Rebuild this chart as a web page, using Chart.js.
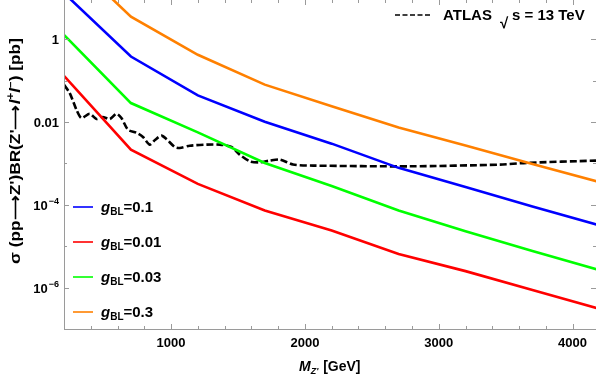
<!DOCTYPE html>
<html>
<head>
<meta charset="utf-8">
<script src="https://cdn.jsdelivr.net/npm/chart.js@4.4.0/dist/chart.umd.min.js"></script>
<style>
  html, body { margin: 0; padding: 0; background: #fff; }
  canvas { display: block; }
</style>
</head>
<body>
<canvas id="c" width="596" height="381"></canvas>
<script>
// ─── DONNÉES ──────────────────────────────────────────────────────────────
const masses = [200, 700, 1200, 1700, 2200, 2700, 3200, 3700, 4200];   // GeV
const sigmaG01  = [13, 0.381, 0.0438, 0.0101, 0.0030, 7.8e-4, 2.7e-4, 9.1e-5, 3.2e-5];
const sigmaG001 = [0.13, 0.00214, 3.2e-4, 7.3e-5, 2.4e-5, 6.5e-6, 2.5e-6, 8.8e-7, 3.07e-7];
const sigmaG003 = [1.27, 0.0287, 0.0056, 0.00102, 2.84e-4, 7.3e-5, 2.3e-5, 7.7e-6, 2.64e-6];
const sigmaG03  = [120, 3.5, 0.42, 0.08, 0.024, 0.0074, 0.0027, 0.00097, 3.55e-4];

const atlasMass  = [200, 243, 293, 330, 392, 442, 489, 542, 592, 629, 678, 741, 790, 840, 882, 928,
                    965, 1027, 1065, 1140, 1264, 1364, 1451, 1513, 1589, 1663, 1738, 1812, 1911, 2061,
                    2784, 3456, 3656, 4175];
const atlasLimit = [0.079, 0.050, 0.0198, 0.0125, 0.0158, 0.0118, 0.0132, 0.0118, 0.0158, 0.0125,
                    0.0065, 0.0055, 0.00435, 0.00284, 0.00374, 0.00468, 0.00389, 0.0025, 0.00236,
                    0.00268, 0.00284, 0.00284, 0.0025, 0.00163, 0.00112, 0.00106, 0.00117, 0.00124,
                    0.00094, 0.000885, 0.00085, 0.000935, 0.00103, 0.00117];

const seriesLabels = ['0.1', '0.01', '0.03', '0.3'];
const seriesColors = ['#0000ff', '#ff0000', '#00ff00', '#ff8000'];

const xTicks = [1000, 2000, 3000, 4000];
const xMinorStep = 200;
const yTicks = [1, 0.01, 1e-4, 1e-6];
const yTickLabels = [['1', ''], ['0.01', ''], ['10', '\u22124'], ['10', '\u22126']];
const yMinor = [0.1, 1e-3, 1e-5, 1e-7];

const BOLD = '"Liberation Sans", Arial, sans-serif';
const AXIS_GRAY = '#9a9a9a';

function pts(xs, ys) { return xs.map((x, i) => ({ x: x, y: ys[i] })); }

const curves = [sigmaG01, sigmaG001, sigmaG003, sigmaG03];
const datasets = curves.map((c, i) => ({
    label: 'g_BL=' + seriesLabels[i],
    data: pts(masses, c),
    borderColor: seriesColors[i],
    borderWidth: 2.6,
    pointRadius: 0,
    tension: 0,
    fill: false
}));
datasets.push({
    label: 'ATLAS',
    data: pts(atlasMass, atlasLimit),
    borderColor: '#000',
    borderWidth: 2.6,
    borderDash: [7, 3],
    pointRadius: 0,
    tension: 0.25,
    fill: false
});

// ─── AXES, TICKS, TEXTES ─────────────────────────────────────────────────
const framePlugin = {
    id: 'frame',
    afterDraw(chart) {
        const { ctx, chartArea: a, scales: { x, y } } = chart;
        ctx.save();
        ctx.strokeStyle = AXIS_GRAY;
        ctx.lineWidth = 1;

        // axes gauche / bas
        ctx.beginPath();
        ctx.moveTo(a.left + 0.5, a.top);
        ctx.lineTo(a.left + 0.5, a.bottom + 0.5);
        ctx.lineTo(a.right, a.bottom + 0.5);
        ctx.stroke();

        // ticks x (bas + haut)
        ctx.beginPath();
        for (let m = x.min; m <= x.max; m += xMinorStep) {
            const px = Math.round(x.getPixelForValue(m)) + 0.5;
            const len = xTicks.includes(m) ? 5 : 3;
            ctx.moveTo(px, a.bottom); ctx.lineTo(px, a.bottom - len);
            ctx.moveTo(px, a.top);    ctx.lineTo(px, a.top + len);
        }
        // ticks y (gauche + droite)
        yTicks.concat(yMinor).forEach((v, i) => {
            if (v < y.min || v > y.max) return;
            const py = Math.round(y.getPixelForValue(v)) + 0.5;
            const len = i < yTicks.length ? 5 : 3;
            ctx.moveTo(a.left, py);  ctx.lineTo(a.left + len, py);
            ctx.moveTo(a.right, py); ctx.lineTo(a.right - len, py);
        });
        ctx.stroke();

        ctx.fillStyle = '#000';
        ctx.textBaseline = 'alphabetic';

        // labels x
        ctx.font = 'bold 13px ' + BOLD;
        ctx.textAlign = 'center';
        xTicks.forEach(m => ctx.fillText(String(m), x.getPixelForValue(m), 347));

        // labels y (avec exposants)
        ctx.textAlign = 'left';
        yTicks.forEach((v, i) => {
            const [base, sup] = yTickLabels[i];
            const py = y.getPixelForValue(v);
            ctx.font = 'bold 13px ' + BOLD;
            const wb = ctx.measureText(base).width;
            ctx.font = 'bold 9px ' + BOLD;
            const ws = sup ? ctx.measureText(sup).width + 1 : 0;
            const x0 = a.left - 5 - wb - ws;
            ctx.font = 'bold 13px ' + BOLD;
            ctx.fillText(base, x0, py + 5);
            if (sup) {
                ctx.font = 'bold 9px ' + BOLD;
                ctx.fillText(sup, x0 + wb + 1, py - 1);
            }
        });

        // titre x : M_Z' [GeV]
        let cx = 299;
        ctx.font = 'italic bold 14px ' + BOLD;
        ctx.fillText('M', cx, 371); cx += ctx.measureText('M').width;
        ctx.font = 'italic bold 9px ' + BOLD;
        ctx.fillText("Z'", cx, 374); cx += ctx.measureText("Z'").width;
        ctx.font = 'bold 14px ' + BOLD;
        ctx.fillText(' [GeV]', cx + 1, 371);

        // titre y (flèches longues, léger étirement pour couvrir ~246 px)
        const parts = [
            ['bold 15px ', '\u03c3 (pp', 0],
            ['bold 15px ', '\u27f6', 0],
            ['bold 15px ', 'Z\')BR(Z\'', 0],
            ['bold 15px ', '\u27f6', 0],
            ['italic bold 15px ', 'l', 0],
            ['bold 10px ', '+', -6],
            ['italic bold 15px ', 'l', 0],
            ['bold 10px ', '\u2212', -6],
            ['bold 15px ', ') [pb]', 0]
        ];
        let tw = 0;
        parts.forEach(p => { ctx.font = p[0] + BOLD; tw += ctx.measureText(p[1]).width; });
        ctx.save();
        ctx.translate(20, 151);
        ctx.rotate(-Math.PI / 2);
        ctx.scale(Math.min(1.15, 246 / tw), 1);
        let tx = -tw / 2;
        parts.forEach(p => {
            ctx.font = p[0] + BOLD;
            ctx.fillText(p[1], tx, p[2]);
            tx += ctx.measureText(p[1]).width;
        });
        ctx.restore();

        // légende g_BL
        const legY = [207, 242, 277, 312];
        seriesLabels.forEach((lab, i) => {
            const ly = legY[i];
            ctx.strokeStyle = seriesColors[i];
            ctx.lineWidth = 1.6;
            ctx.setLineDash([]);
            ctx.beginPath(); ctx.moveTo(73, ly); ctx.lineTo(93, ly); ctx.stroke();
            let lx = 101;
            ctx.font = 'italic bold 15px ' + BOLD;
            ctx.fillText('g', lx, ly + 5); lx += ctx.measureText('g').width;
            ctx.font = 'bold 10px ' + BOLD;
            ctx.fillText('BL', lx, ly + 8); lx += ctx.measureText('BL').width;
            ctx.font = 'bold 15px ' + BOLD;
            ctx.fillText('=' + lab, lx, ly + 5);
        });

        // légende ATLAS
        ctx.strokeStyle = '#000';
        ctx.lineWidth = 1.6;
        ctx.setLineDash([5, 2.5]);
        ctx.beginPath(); ctx.moveTo(395, 15); ctx.lineTo(432, 15); ctx.stroke();
        ctx.setLineDash([]);
        ctx.font = 'bold 15px ' + BOLD;
        ctx.fillText('ATLAS', 443, 20);
        ctx.fillText('\u221a', 500, 28);
        ctx.fillText('s = 13 TeV', 512, 20);

        ctx.restore();
    }
};

new Chart(document.getElementById('c'), {
    type: 'line',
    data: { datasets },
    options: {
        responsive: false,
        devicePixelRatio: 1,
        animation: false,
        layout: { padding: { left: 64, right: 0, top: 0, bottom: 52 } },
        scales: {
            x: { type: 'linear', min: 200, max: 4175, display: false },
            y: { type: 'logarithmic', min: 1e-7, max: Math.pow(10, 0.947), display: false }
        },
        plugins: { legend: { display: false }, tooltip: { enabled: false } }
    },
    plugins: [framePlugin]
});
</script>
</body>
</html>
